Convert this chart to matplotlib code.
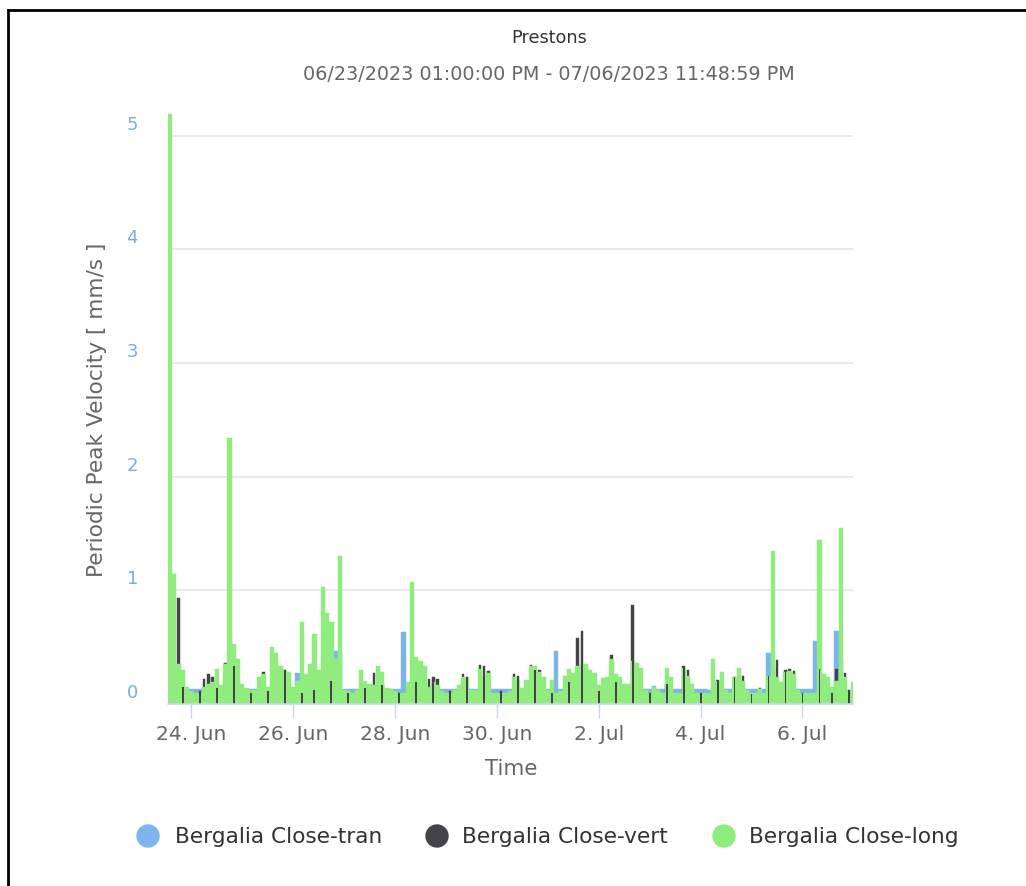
import matplotlib
matplotlib.use("Agg")
import matplotlib.pyplot as plt
import matplotlib.patches as mpatches
from matplotlib.lines import Line2D
import numpy as np
import pandas as pd

plt.rcParams["font.family"] = ["DejaVu Sans"]

W, H = 1026, 886

TITLE = "Prestons"
SUBTITLE = "06/23/2023 01:00:00 PM - 07/06/2023 11:48:59 PM"
START = "2023-06-23 13:00"
END = "2023-07-06 23:49"

SERIES = ["Bergalia Close-tran", "Bergalia Close-vert", "Bergalia Close-long"]
COLORS = ["#7cb5ec", "#434348", "#90ed7d"]

# 2-hourly periodic peak values (mm/s)
LONG = [
    5.19, 1.14, 0.35, 0.30, 0.15, 0.11, 0.10, 0.10, 0.15, 0.18,
    0.19, 0.31, 0.17, 0.35, 2.34, 0.53, 0.40, 0.18, 0.14, 0.12,
    0.12, 0.24, 0.26, 0.15, 0.50, 0.45, 0.33, 0.30, 0.28, 0.15,
    0.20, 0.72, 0.26, 0.35, 0.62, 0.30, 1.03, 0.80, 0.72, 0.40,
    1.30, 0.12, 0.11, 0.10, 0.12, 0.30, 0.20, 0.18, 0.17, 0.33,
    0.28, 0.14, 0.13, 0.11, 0.10, 0.10, 0.19, 1.07, 0.41, 0.38,
    0.33, 0.15, 0.19, 0.17, 0.11, 0.10, 0.10, 0.12, 0.17, 0.24,
    0.24, 0.12, 0.12, 0.31, 0.25, 0.27, 0.10, 0.10, 0.10, 0.10,
    0.11, 0.24, 0.21, 0.14, 0.21, 0.33, 0.33, 0.28, 0.24, 0.12,
    0.21, 0.10, 0.11, 0.25, 0.31, 0.27, 0.33, 0.35, 0.35, 0.30,
    0.27, 0.17, 0.23, 0.24, 0.40, 0.26, 0.24, 0.18, 0.18, 0.38,
    0.36, 0.32, 0.12, 0.10, 0.15, 0.12, 0.10, 0.32, 0.24, 0.10,
    0.10, 0.32, 0.25, 0.18, 0.10, 0.10, 0.10, 0.10, 0.40, 0.20,
    0.28, 0.12, 0.10, 0.24, 0.32, 0.20, 0.12, 0.10, 0.10, 0.13,
    0.10, 0.25, 1.35, 0.24, 0.19, 0.28, 0.29, 0.26, 0.12, 0.10,
    0.10, 0.10, 0.10, 1.44, 0.26, 0.24, 0.15, 0.20, 1.55, 0.24,
    0.12, 0.19,
]

TRAN = [
    0.30, 0.25, 0.12, 0.12, 0.12, 0.13, 0.13, 0.13, 0.14, 0.14,
    0.15, 0.12, 0.12, 0.12, 0.20, 0.15, 0.12, 0.12, 0.13, 0.13,
    0.13, 0.12, 0.12, 0.13, 0.20, 0.20, 0.20, 0.15, 0.15, 0.14,
    0.27, 0.25, 0.20, 0.20, 0.25, 0.28, 0.30, 0.30, 0.25, 0.47,
    0.45, 0.13, 0.13, 0.13, 0.13, 0.12, 0.12, 0.12, 0.12, 0.12,
    0.12, 0.12, 0.13, 0.13, 0.13, 0.63, 0.13, 0.20, 0.15, 0.15,
    0.15, 0.13, 0.13, 0.13, 0.13, 0.13, 0.13, 0.13, 0.12, 0.12,
    0.12, 0.13, 0.13, 0.12, 0.12, 0.12, 0.13, 0.13, 0.13, 0.13,
    0.13, 0.12, 0.12, 0.13, 0.12, 0.12, 0.12, 0.12, 0.12, 0.13,
    0.12, 0.47, 0.13, 0.12, 0.12, 0.12, 0.12, 0.12, 0.12, 0.12,
    0.12, 0.12, 0.12, 0.12, 0.12, 0.12, 0.12, 0.12, 0.12, 0.12,
    0.12, 0.12, 0.13, 0.13, 0.16, 0.13, 0.13, 0.12, 0.12, 0.13,
    0.13, 0.12, 0.12, 0.12, 0.13, 0.13, 0.13, 0.12, 0.12, 0.12,
    0.12, 0.13, 0.13, 0.12, 0.12, 0.12, 0.13, 0.13, 0.13, 0.12,
    0.13, 0.45, 0.30, 0.12, 0.12, 0.12, 0.12, 0.12, 0.13, 0.13,
    0.13, 0.13, 0.55, 0.30, 0.12, 0.12, 0.12, 0.64, 0.40, 0.12,
    0.12, 0.12,
]

VERT = [
    0.08, 0.08, 0.93, 0.15, 0.08, 0.08, 0.08, 0.11, 0.22, 0.26,
    0.24, 0.14, 0.08, 0.36, 0.08, 0.33, 0.08, 0.08, 0.08, 0.10,
    0.08, 0.08, 0.28, 0.11, 0.08, 0.08, 0.08, 0.30, 0.08, 0.08,
    0.08, 0.10, 0.08, 0.08, 0.12, 0.08, 0.08, 0.08, 0.20, 0.08,
    0.08, 0.08, 0.10, 0.08, 0.08, 0.17, 0.14, 0.08, 0.27, 0.08,
    0.17, 0.08, 0.08, 0.08, 0.10, 0.08, 0.08, 0.08, 0.19, 0.08,
    0.08, 0.22, 0.24, 0.22, 0.08, 0.08, 0.11, 0.08, 0.08, 0.26,
    0.24, 0.08, 0.08, 0.34, 0.33, 0.29, 0.08, 0.08, 0.11, 0.08,
    0.08, 0.26, 0.25, 0.08, 0.08, 0.34, 0.30, 0.30, 0.08, 0.08,
    0.10, 0.08, 0.08, 0.08, 0.19, 0.08, 0.58, 0.64, 0.08, 0.08,
    0.08, 0.11, 0.08, 0.08, 0.43, 0.19, 0.08, 0.08, 0.08, 0.87,
    0.08, 0.08, 0.08, 0.10, 0.08, 0.08, 0.08, 0.18, 0.08, 0.08,
    0.08, 0.33, 0.30, 0.08, 0.08, 0.10, 0.08, 0.08, 0.08, 0.21,
    0.08, 0.08, 0.08, 0.24, 0.08, 0.25, 0.08, 0.09, 0.08, 0.14,
    0.08, 0.25, 0.08, 0.39, 0.08, 0.30, 0.31, 0.29, 0.08, 0.10,
    0.08, 0.08, 0.08, 0.31, 0.08, 0.08, 0.10, 0.31, 0.08, 0.27,
    0.12, 0.08,
]

TICK_DATES = ["2023-06-24", "2023-06-26", "2023-06-28", "2023-06-30",
              "2023-07-02", "2023-07-04", "2023-07-06"]
TICK_LABELS = ["24. Jun", "26. Jun", "28. Jun", "30. Jun", "2. Jul", "4. Jul", "6. Jul"]
Y_TICKS = [0, 1, 2, 3, 4, 5]


def px(x, y):
    return x / W, 1 - y / H


def main():
    times = pd.date_range(START, periods=len(LONG), freq="2h")
    step = pd.Timedelta(hours=2)

    fig = plt.figure(figsize=(W / 100, H / 100), dpi=100)
    ax = fig.add_axes([168 / W, 1 - 704 / H, 685 / W, (704 - 113) / H])

    # tran behind, vert next, long on top, then the thin vert marks
    ax.bar(times, TRAN, width=step, align="edge", color=COLORS[0],
           edgecolor=COLORS[0], linewidth=0.3, zorder=2)
    ax.bar(times + step * 0.2, VERT, width=step * 0.6, align="edge", color=COLORS[1],
           edgecolor=COLORS[1], linewidth=0.3, zorder=3)
    ax.bar(times, LONG, width=step, align="edge", color=COLORS[2],
           edgecolor=COLORS[2], linewidth=0.3, zorder=4)
    idx = np.round(3 + np.arange(41) * 3.935).astype(int)
    idx = idx[idx < len(VERT)]
    vv = np.array(VERT)[idx]
    ax.bar(times[idx] + step * 0.28, vv, width=step * 0.44, align="edge",
           color=COLORS[1], linewidth=0, zorder=5)

    ax.set_xlim(pd.Timestamp(START), pd.Timestamp(END))
    ax.set_ylim(0, 5.2)

    ax.set_yticks(Y_TICKS)
    ax.set_yticklabels([])
    ax.tick_params(axis="y", length=0)
    ax.grid(axis="y", color="#e6e6e6", linewidth=1.2, zorder=0)
    ax.set_axisbelow(True)
    for v in Y_TICKS:
        ax.annotate(str(v), xy=(0, v), xycoords=("axes fraction", "data"),
                    xytext=(-30, 11), textcoords="offset pixels", ha="right", va="center",
                    fontsize=13, color="#7cacd9")

    ax.set_xticks(pd.to_datetime(TICK_DATES))
    ax.set_xticklabels(TICK_LABELS, fontsize=14.6, color="#666666")
    ax.tick_params(axis="x", length=10, width=1, color="#ccd6eb", pad=5)

    for s in ("top", "right", "left"):
        ax.spines[s].set_visible(False)
    ax.spines["bottom"].set_color("#ccd6eb")
    ax.spines["bottom"].set_linewidth(1.2)
    ax.spines["bottom"].set_zorder(6)

    fig.text(*px(97, 410), "Periodic Peak Velocity [ mm/s ]", rotation=90,
             ha="center", va="center", fontsize=15.6, color="#666666")
    fig.text(*px(511, 769), "Time", ha="center", va="center", fontsize=15.4, color="#666666")
    fig.text(*px(549, 38), TITLE, ha="center", va="center", fontsize=12.7, color="#333333")
    fig.text(*px(549, 74), SUBTITLE, ha="center", va="center", fontsize=13.8, color="#666666")

    # legend
    for cx, tx, name, col in zip([148, 437, 724], [175, 462, 749], SERIES, COLORS):
        fig.add_artist(mpatches.Ellipse(px(cx, 836), 22 / W, 22 / H,
                                        transform=fig.transFigure, color=col))
        fig.text(*px(tx, 837), name, ha="left", va="center", fontsize=15.6, color="#333333")

    # page frame
    fig.add_artist(Line2D([8 / W, 8 / W], [0, 1 - 10 / H], transform=fig.transFigure,
                          color="black", linewidth=2))
    fig.add_artist(Line2D([8 / W, 1], [1 - 10 / H, 1 - 10 / H], transform=fig.transFigure,
                          color="black", linewidth=2))

    fig.savefig("out.png", dpi=100)
    plt.close(fig)


if __name__ == "__main__":
    main()
